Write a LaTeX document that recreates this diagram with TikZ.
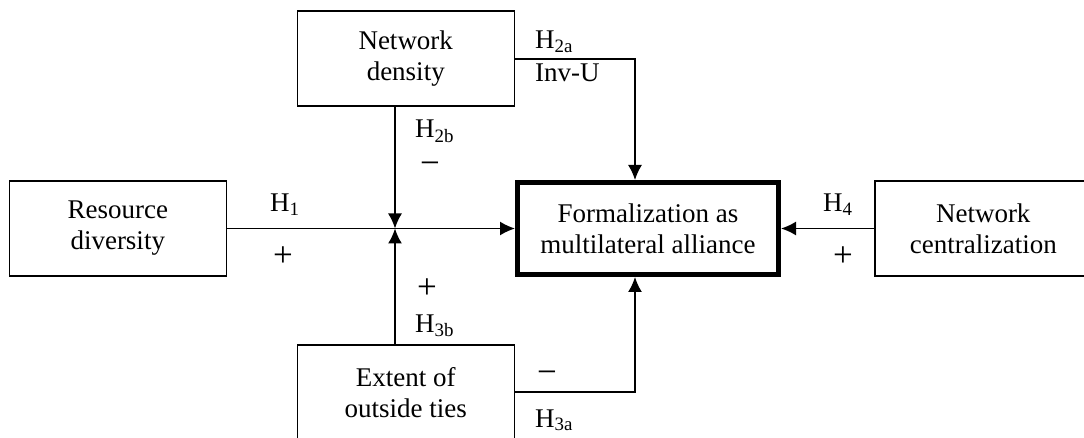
\documentclass[tikz,border=0pt]{standalone}
\usepackage{fontspec}
\setmainfont{Liberation Serif}
\usetikzlibrary{arrows.meta, positioning}

\begin{document}
\begin{tikzpicture}[x=1pt, y=-1pt,
        box/.style={draw, line width=1.5pt, minimum width=217pt, minimum height=95pt,
            inner sep=0pt, align=center, font=\fontsize{27}{31}\selectfont},
        core/.style={box, line width=5pt, minimum width=261pt, minimum height=92pt},
        hyp/.style={inner sep=0pt, anchor=base west, font=\fontsize{27}{31}\selectfont},
        sign/.style={inner sep=0pt, font=\fontsize{35}{37}\selectfont},
        link/.style={line width=1.6pt, -{Latex[length=15pt,width=14pt]}}]
    \useasboundingbox (0,0) rectangle (1084,438);
    \clip (0,0) rectangle (1084,438);
        \node[core] at (648,228.5) (form) {Formalization as\\multilateral alliance};
        \node[box] [left = 288pt of form] (res) {Resource\\diversity};
        \node[box] [right = 93pt of form] (cent) {Network\\centralization};
        \node[box] [above left = 73pt and 0pt of form] (dens) {Network\\density};
        \node[box] [below left = 67pt and 0pt of form] (ext) {Extent of\\outside ties};
        \coordinate (jn) at (395,228.5);
        \coordinate (hx) at (635,0);
    \draw[link] (res) -- (form);
    \draw[link] (cent) -- (form);
    \draw[link] (jn |- dens.south) -- (jn);
    \draw[link] (jn |- ext.north) -- (jn);
    \draw[link] (dens.east) -| (hx |- form.north);
    \draw[link] (ext.east) -| (hx |- form.south);
        \node[hyp] (h1) at (270,212) {H\textsubscript{1}};
        \node[sign] (p1) at (283,257) {+};
        \node[hyp] (h2a) at (535,49) {H\textsubscript{2a}};
        \node[hyp] (invu) at (535,82) {Inv-U};
        \node[hyp] (h2b) at (415,138) {H\textsubscript{2b}};
        \node[sign] (m2b) at (430,168) {−};
        \node[sign] (p3b) at (427,289) {+};
        \node[hyp] (h3b) at (415,332) {H\textsubscript{3b}};
        \node[sign] (m3a) at (547,377) {−};
        \node[hyp] (h3a) at (535,427) {H\textsubscript{3a}};
        \node[hyp] (h4) at (823,212) {H\textsubscript{4}};
        \node[sign] (p4) at (843,257) {+};
\end{tikzpicture}
\end{document}
